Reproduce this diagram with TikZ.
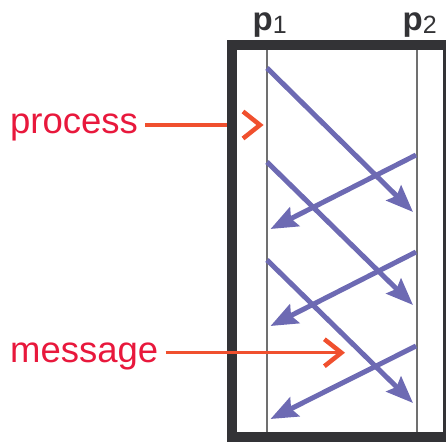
\documentclass[tikz,border=0pt]{standalone}
\usepackage{fontspec}
\setmainfont{Liberation Sans}
\usetikzlibrary{arrows.meta,calc}

\definecolor{framegray}{HTML}{333336}
\definecolor{linegray}{HTML}{707070}
\definecolor{msgpurple}{HTML}{6D6AB3}
\definecolor{labelred}{HTML}{E8183C}
\definecolor{pointerred}{HTML}{F0502E}

\tikzset{
    message/.style={
        draw=msgpurple,line width=5pt,
        -{Stealth[length=27pt,width=21pt,inset=4pt]}
    },
    pointer/.style={draw=pointerred,line width=3.5pt},
    pointer tip/.style={pointer,-{Straight Barb[length=17pt,width=27pt,line width=4.5pt]}},
    name label/.style={
        text=labelred,inner sep=0pt,anchor=base west,
        font=\fontsize{36.5}{40}\selectfont
    },
    proc label/.style={text=framegray,inner sep=0pt,anchor=base west},
    process line/.style={draw=linegray,line width=1.5pt}
}

\begin{document}
\begin{tikzpicture}[x=1pt,y=-1pt]
        \useasboundingbox (0,0) rectangle (446,444);
        \clip (0,0) rectangle (446,444);
        % labels on the left
        \node[name label] (process) at (10,133.3) {process};
        \node[name label] (message) at (10,362.7) {message};
        \coordinate (process tip) at (260,125);
        \coordinate (message tip) at (345,352.7);
        \draw[pointer] ($(process.east |- process tip)+(7,0)$) -- ($(process tip)+(-30,0)$);
        % frame and processes
        \draw[framegray,line width=10pt] (231.5,45) rectangle (448,437);
        \foreach \x in {267,417}
            \draw[process line] (\x,50) -- (\x,432);
        \node[proc label] (p1) at (252.5,30.5)
            {\fontsize{33}{33}\selectfont\bfseries p\raisebox{-3pt}{\fontsize{25}{25}\selectfont\mdseries 1}};
        \node[proc label] (p2) at (402.5,30.5)
            {\fontsize{33}{33}\selectfont\bfseries p\raisebox{-3pt}{\fontsize{25}{25}\selectfont\mdseries 2}};
        % messages p1 -> p2
        \foreach \i/\ya/\yb in {1/68/212,2/162/305,3/260/403}{
            \coordinate (send\i) at (267,\ya);
            \coordinate (recv\i) at (413,\yb);
            \draw[message] (send\i) -- (recv\i);
        }
        % messages p2 -> p1
        \foreach \i/\ya/\yb in {1/155/229,2/252/326,3/346/419}{
            \coordinate (back\i) at (416,\ya);
            \coordinate (got\i) at (270.5,\yb);
            \draw[message] (back\i) -- (got\i);
        }
        % pointers
        \draw[pointer,line width=4.5pt,miter limit=10] ($(process tip)+(-17,-13.5)$) -- (process tip) -- ($(process tip)+(-17,13.5)$);
        \draw[pointer tip] ($(message.east |- message tip)+(7,0)$) -- (message tip);
    \end{tikzpicture}
\end{document}
